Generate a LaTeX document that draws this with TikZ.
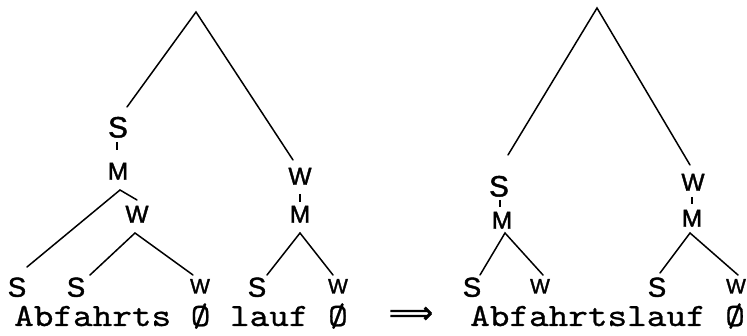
\documentclass[tikz,border=0pt]{standalone}
\usepackage{fontspec}
\newfontfamily\labfont{Liberation Sans}[FakeBold=1.5]
\newfontfamily\txtfont{lmmono10-regular.otf}[FakeStretch=1.15,FakeBold=0.8]
\newfontfamily\symfont{DejaVu Sans}[FakeBold=1]
\begin{document}
\begin{tikzpicture}[x=1pt,y=-1pt,
  br/.style={line width=1.5pt,line cap=round},
  dsh/.style={line width=1.8pt},
  lab/.style={inner sep=0pt,text depth=0pt},
  slab/.style={lab,text height=21pt,font=\labfont\fontsize{29.5}{29.5}\selectfont},
  wlab/.style={lab,text height=17.5pt,font=\labfont\fontsize{24.5}{24.5}\selectfont},
  leafs/.style={lab,text height=19.5pt,font=\labfont\fontsize{27.5}{27.5}\selectfont},
  leafw/.style={lab,text height=15pt,font=\labfont\fontsize{21}{21}\selectfont},
  words/.style={inner sep=0pt,anchor=base west,text height=19pt,text depth=0pt,
    font=\txtfont\fontsize{32.5}{32.5}\selectfont}]
\useasboundingbox (0,0) rectangle (747,336);

% ---------- left tree ----------
\coordinate (rootL) at (196,12);
\coordinate (lA) at (127,107);
\coordinate (lB) at (293,160);
\node[slab] (S1) at (118,127) {S};
\node[wlab] (M1) at (118,171) {M};
\coordinate (d1a) at (117,142); \coordinate (d1b) at (117,150);
\node[wlab] (W1) at (300,176) {W};
\coordinate (d2a) at (300,194); \coordinate (d2b) at (300,202);
\node[wlab] (M2) at (300,214) {M};
\coordinate (j1) at (120,190);
\coordinate (j1a) at (27,267);
\coordinate (j1b) at (137,200);
\node[wlab] (W2) at (137,214) {W};
\coordinate (j2) at (135,233);
\coordinate (j2a) at (90,275);
\coordinate (j2b) at (193,275);
\coordinate (j3) at (300,233);
\coordinate (j3a) at (267,275);
\coordinate (j3b) at (333,275);
\node[leafs] (L1) at (17,287) {S};
\node[leafs] (L2) at (76,287) {S};
\node[leafw] (L3) at (200,286) {W};
\node[leafs] (L4) at (257,287) {S};
\node[leafw] (L5) at (338,286) {W};

\draw[br] (lA) -- (rootL) -- (lB);
\draw[dsh] (d1a) -- (d1b);
\draw[dsh] (d2a) -- (d2b);
\draw[br] (j1a) -- (j1) -- (j1b);
\draw[br] (j2a) -- (j2) -- (j2b);
\draw[br] (j3a) -- (j3) -- (j3b);

\node[words] (tL) at (14,326) {Abfahrts Ø lauf Ø};

% ---------- arrow ----------
\node[inner sep=0pt,font=\symfont\fontsize{31}{31}\selectfont] (arr) at (411,315) {⟹};

% ---------- right tree ----------
\coordinate (rootR) at (597,8);
\coordinate (rA) at (508,155);
\coordinate (rB) at (690,165);
\node[slab] (S2) at (499,186) {S};
\coordinate (d3a) at (500,200); \coordinate (d3b) at (500,207);
\node[wlab] (M3) at (502,220) {M};
\node[wlab] (W3) at (693,182) {W};
\coordinate (d4a) at (692,197); \coordinate (d4b) at (692,204);
\node[wlab] (M4) at (692,218) {M};
\coordinate (j4) at (505,233);
\coordinate (j4a) at (480,275);
\coordinate (j4b) at (543,275);
\coordinate (j5) at (690,233);
\coordinate (j5a) at (660,273);
\coordinate (j5b) at (738,275);
\node[leafs] (L6) at (472,287) {S};
\node[leafw] (L7) at (540,286) {W};
\node[leafs] (L8) at (657,287) {S};
\node[leafw] (L9) at (736,286) {W};

\draw[br] (rA) -- (rootR) -- (rB);
\draw[dsh] (d3a) -- (d3b);
\draw[dsh] (d4a) -- (d4b);
\draw[br] (j4a) -- (j4) -- (j4b);
\draw[br] (j5a) -- (j5) -- (j5b);

\node[words] (tR) at (470,326) {Abfahrtslauf Ø};
\end{tikzpicture}
\end{document}
